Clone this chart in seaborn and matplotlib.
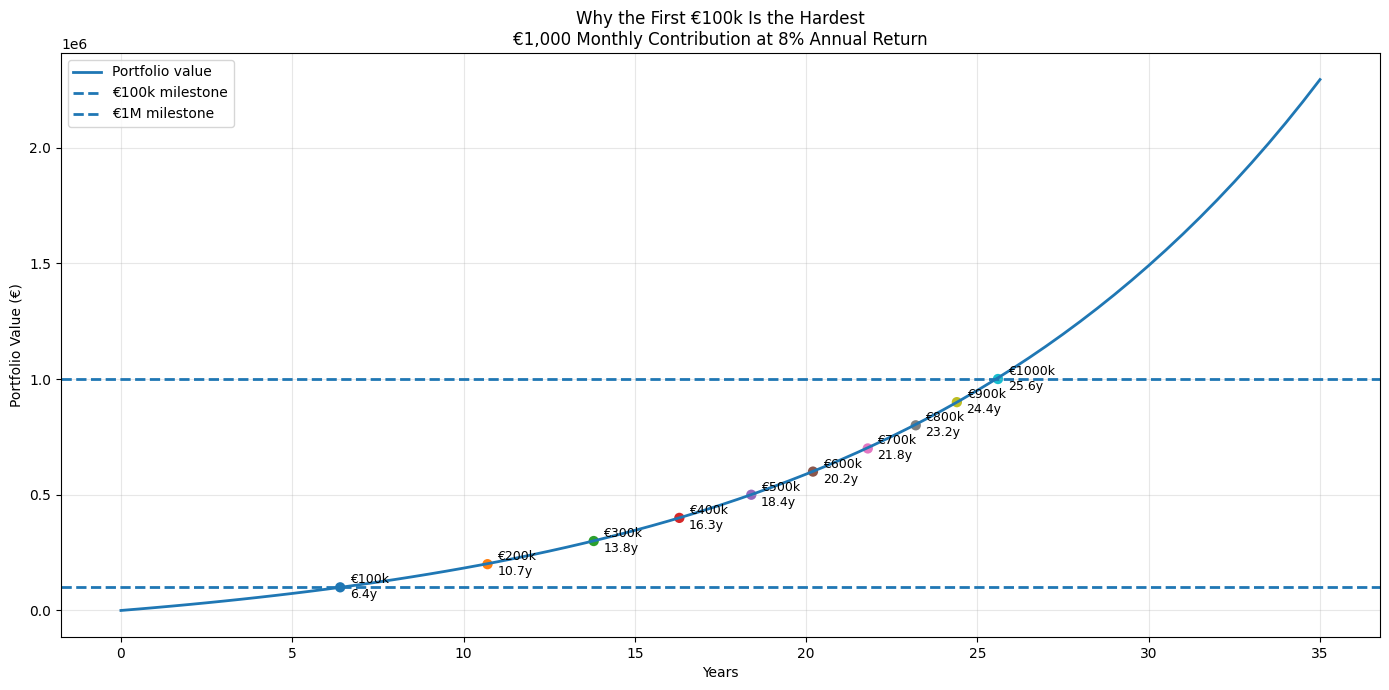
import matplotlib
matplotlib.use("Agg")
import matplotlib.pyplot as plt
import seaborn as sns
import pandas as pd

# portfolio value, every half year (euros)
years = [0, 0.5, 1, 1.5, 2, 2.5, 3, 3.5, 4, 4.5, 5, 5.5, 6, 6.5, 7, 7.5, 8, 8.5, 9, 9.5,
         10, 10.5, 11, 11.5, 12, 12.5, 13, 13.5, 14, 14.5, 15, 15.5, 16, 16.5, 17, 17.5,
         18, 18.5, 19, 19.5, 20, 20.5, 21, 21.5, 22, 22.5, 23, 23.5, 24, 24.5, 25, 25.5,
         26, 26.5, 27, 27.5, 28, 28.5, 29, 29.5, 30, 30.5, 31, 31.5, 32, 32.5, 33, 33.5,
         34, 34.5, 35]
values = [0, 6100, 12450, 19060, 25930, 33090, 40540, 48290, 56350, 64740,
          73480, 82570, 92030, 101870, 112110, 122770, 133870, 145410, 157430, 169930,
          182950, 196490, 210580, 225250, 240510, 256390, 272920, 290120, 308020, 326650,
          346040, 366210, 387210, 409060, 431800, 455460, 480090, 505710, 532380, 560140,
          589020, 619080, 650360, 682910, 716790, 752040, 788730, 826910, 866650, 907990,
          951030, 995810, 1042410, 1090910, 1141380, 1193910, 1248570, 1305450, 1364650, 1426250,
          1490360, 1557080, 1626510, 1698770, 1773960, 1852220, 1933650, 2018400, 2106590, 2198380,
          2293890]

# milestone crossings
milestone_values = [100000, 200000, 300000, 400000, 500000, 600000, 700000, 800000, 900000, 1000000]
milestone_years = [6.4, 10.7, 13.8, 16.3, 18.4, 20.2, 21.8, 23.2, 24.4, 25.6]
milestone_names = ["€100k", "€200k", "€300k", "€400k", "€500k", "€600k", "€700k", "€800k", "€900k", "€1000k"]

df = pd.DataFrame({"Years": years, "Value": values})
ms = pd.DataFrame({"Years": milestone_years, "Value": milestone_values, "name": milestone_names})

fig, ax = plt.subplots(figsize=(13.89, 6.9), dpi=100)

sns.lineplot(data=df, x="Years", y="Value", ax=ax, linewidth=2, label="Portfolio value", zorder=2)
ax.axhline(100000, linestyle="--", linewidth=2, label="€100k milestone")
ax.axhline(1000000, linestyle="--", linewidth=2, label="€1M milestone")

sns.scatterplot(data=ms, x="Years", y="Value", hue="name", palette="tab10",
                s=55, edgecolor="none", legend=False, ax=ax, zorder=1)

for _, row in ms.iterrows():
    ax.annotate(f"{row['name']}\n{row['Years']}y", (row["Years"], row["Value"]),
                xytext=(7, 0), textcoords="offset points", va="center", fontsize=9)

ax.set_title("Why the First €100k Is the Hardest\n€1,000 Monthly Contribution at 8% Annual Return")
ax.set_xlabel("Years")
ax.set_ylabel("Portfolio Value (€)")
ax.grid(True, alpha=0.3)
ax.legend(loc="upper left")

plt.subplots_adjust(left=0.0439, right=0.9935, top=0.9232, bottom=0.0768)
plt.savefig("out.png")
